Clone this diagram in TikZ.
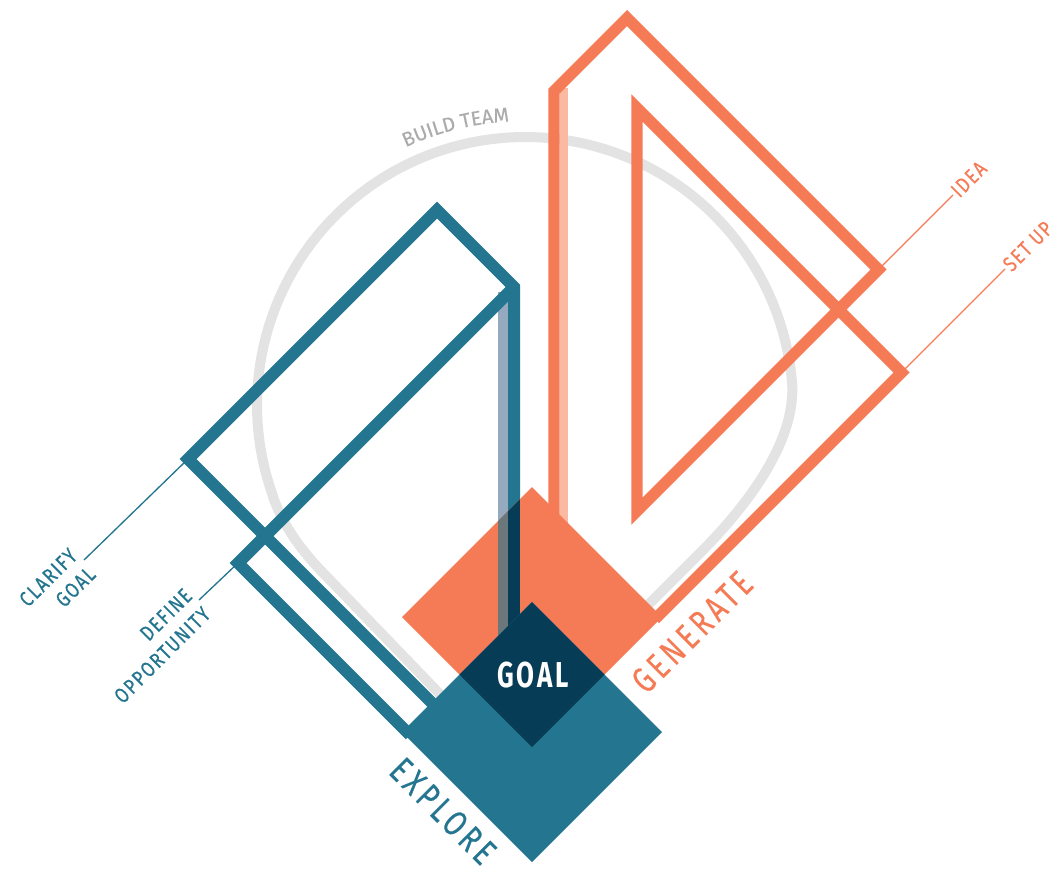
\documentclass[tikz,border=0pt]{standalone}
\usepackage{fontspec}
\usetikzlibrary{decorations.text}
\newfontfamily\bigfont[FakeStretch=0.75, LetterSpace=12, FakeBold=0.4]{Fira Sans}
\newfontfamily\goalfont[FakeStretch=0.72, LetterSpace=8]{Fira Sans}
\newfontfamily\smfont[FakeStretch=0.8, LetterSpace=8, FakeBold=0.4]{Fira Sans}
\newfontfamily\btfont[FakeBold=0.3]{Fira Sans}
\definecolor{cOr}{HTML}{F47B56}
\definecolor{cOrL}{HTML}{FBB9A2}
\definecolor{cTe}{HTML}{24758F}
\definecolor{cTeL}{HTML}{95AABF}
\definecolor{cNavy}{HTML}{073C56}
\definecolor{cGreyBand}{HTML}{6C777C}
\definecolor{cCirc}{HTML}{E3E3E3}
\definecolor{cText}{HTML}{ABABAB}
\begin{document}
\begin{tikzpicture}[x=0.75pt,y=-0.75pt, line join=miter,
  tframe/.style={draw=cTe, line width=9pt},
  oframe/.style={draw=cOr, line width=8.5pt},
  tlink/.style={draw=cTe, line width=1pt},
  olink/.style={draw=cOr, line width=1pt},
  smtxt/.style={font=\smfont\fontsize{16}{19.5}\selectfont, inner sep=1.5pt},
  bigtxt/.style={font=\bigfont\fontsize{27}{30}\selectfont, inner sep=0pt},
  goaltxt/.style={font=\goalfont\bfseries\fontsize{27}{30}\selectfont, text=white, inner sep=0pt}]
\path[use as bounding box] (0,0) rectangle (1062,872);
% grey pin outline
\draw[cCirc, line width=7.5pt, line join=round] (460,715) -- (330,580) .. controls (305,555) and (285,530) .. (273,497)
  -- plot[domain=200:5, samples=90] ({525+268*cos(\x)},{405-268*sin(\x)})
  .. controls (797,442) and (745,508) .. (700,553) -- (615,638);
\path[decorate, decoration={text along path, text={|\btfont\fontsize{15}{17}\selectfont|BUILD TEAM}, text color=cText, text align=center}] plot[domain=122:86, samples=40] ({525+284*cos(\x)},{405-284*sin(\x)});
% coordinates
\coordinate (tTop) at (437,210);
\coordinate (tRight) at (514,287);
\coordinate (tLeft) at (188,459);
\coordinate (tIn) at (238,563);
\coordinate (tOutEnd) at (455,726);
\coordinate (tInEnd) at (410,735);
\coordinate (tVertEnd) at (514,650);
\coordinate (oApex) at (627,18);
\coordinate (oVtop) at (554,91);
\coordinate (oVend) at (554,560);
\coordinate (oIdea) at (878.5,269.5);
\coordinate (oTriBot) at (637,511);
\coordinate (oTriTop) at (637,108);
\coordinate (oSet) at (901.5,372.5);
\coordinate (oEnd) at (655,619);
\coordinate (clarEnd) at (84,560);
\coordinate (defEnd) at (199,600);
\coordinate (ideaEnd) at (953,195);
\coordinate (setEnd) at (1005,269);
% thin connectors
\draw[tlink] (tLeft) -- (clarEnd);
\draw[tlink] (tIn) -- (defEnd);
\draw[olink] (oIdea) -- (ideaEnd);
\draw[olink] (oSet) -- (setEnd);
% light shading bands
\fill[cTeL] (498,292) rectangle (508,650);
\fill[cOrL] (560,88) rectangle (568,560);
% frames
\draw[tframe] (tOutEnd) -- (tLeft) -- (tTop) -- (tRight) -- (tVertEnd);
\draw[tframe] (tRight) -- (tIn) -- (tInEnd);
\draw[oframe] (oVend) -- (oVtop) -- (oApex) -- (oIdea) -- (oTriBot) -- (oTriTop) -- (oSet) -- (oEnd);
% orange square
\fill[cOr] (532,487) -- (662,617) -- (532,747) -- (402,617) -- cycle;
\begin{scope}
\clip (532,487) -- (662,617) -- (532,747) -- (402,617) -- cycle;
\fill[cGreyBand] (498,292) rectangle (508,650);
\fill[cNavy] (508,292) rectangle (520,650);
\end{scope}
% teal square
\fill[cTe] (532,602) -- (662,732) -- (532,862) -- (402,732) -- cycle;
% goal overlap
\fill[cNavy] (532,602) -- (604.5,674.5) -- (532,747) -- (459.5,674.5) -- cycle;
% labels
\node[goaltxt] (goal) at (533,675) {GOAL};
\node[bigtxt, text=cTe, rotate=-45] (explore) at (443,811) {EXPLORE};
\node[bigtxt, text=cOr, rotate=45] (generate) at (692,632) {GENERATE};
\node[smtxt, text=cOr, rotate=45, anchor=west] (idea) at (ideaEnd) {IDEA};
\node[smtxt, text=cOr, rotate=45, anchor=west] (setup) at (setEnd) {SET UP};
\node[smtxt, text=cTe, rotate=45, anchor=east, align=right] (clarify) at (clarEnd) {CLARIFY\\GOAL};
\node[smtxt, text=cTe, rotate=45, anchor=east, align=right] (define) at (defEnd) {DEFINE\\OPPORTUNITY};
\end{tikzpicture}
\end{document}
